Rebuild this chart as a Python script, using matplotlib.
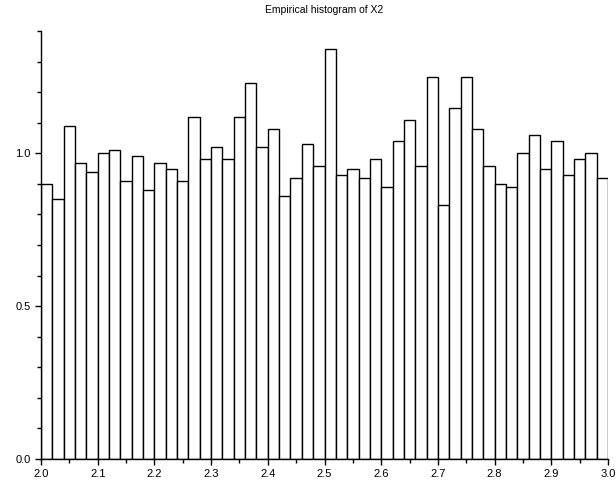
import matplotlib
matplotlib.use("Agg")
import matplotlib.pyplot as plt
from matplotlib.ticker import MultipleLocator

plt.rcParams["font.family"] = ["Liberation Sans", "DejaVu Sans"]

# Empirical histogram of X2: 50 bins of width 0.02 on [2, 3]
bin_left = [2.0 + 0.02 * i for i in range(50)]
bin_width = 0.02
density = [0.90, 0.85, 1.09, 0.97, 0.94, 1.00, 1.01, 0.91, 0.99, 0.88,
           0.97, 0.95, 0.91, 1.12, 0.98, 1.02, 0.98, 1.12, 1.23, 1.02,
           1.08, 0.86, 0.92, 1.03, 0.96, 1.34, 0.93, 0.95, 0.92, 0.98,
           0.89, 1.04, 1.11, 0.96, 1.25, 0.83, 1.15, 1.25, 1.08, 0.96,
           0.90, 0.89, 1.00, 1.06, 0.95, 1.04, 0.93, 0.98, 1.00, 0.92]

fig = plt.figure(figsize=(6.16, 4.86), dpi=100)
ax = fig.add_axes([0.0666, 0.0556, 0.9204, 0.8804])
ax.bar(bin_left, density, width=bin_width, align="edge",
       facecolor="white", edgecolor="black", linewidth=1.0)

ax.set_xlim(2.0, 3.0)
ax.set_ylim(0, 1.4)
ax.xaxis.set_major_locator(MultipleLocator(0.1))
ax.xaxis.set_minor_locator(MultipleLocator(0.05))
ax.yaxis.set_major_locator(MultipleLocator(0.5))
ax.yaxis.set_minor_locator(MultipleLocator(0.1))
ax.xaxis.set_major_formatter(lambda v, p: f"{v:.1f}")
ax.yaxis.set_major_formatter(lambda v, p: f"{v:.1f}")
ax.tick_params(which="major", length=4, width=1, labelsize=8, direction="out")
ax.tick_params(which="minor", length=3, width=1, direction="out")
for s in ("top", "right"):
    ax.spines[s].set_visible(False)
ax.spines["left"].set_linewidth(1)
ax.spines["bottom"].set_linewidth(1)

ax.set_title("Empirical histogram of X2", fontsize=7.5, pad=13)

fig.savefig("out.png", dpi=100)
